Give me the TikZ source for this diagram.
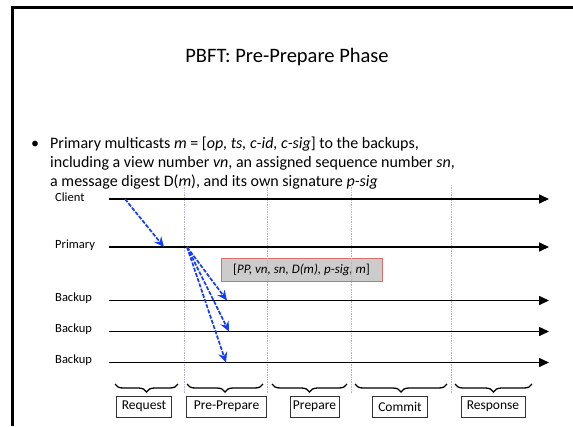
\documentclass[tikz,border=0pt]{standalone}
\usepackage{fontspec}
\setmainfont{Carlito}
\usetikzlibrary{arrows.meta,decorations.pathreplacing}
\definecolor{msgblue}{RGB}{20,60,250}
\definecolor{guide}{RGB}{185,175,215}
\definecolor{tagfill}{RGB}{204,204,204}
\definecolor{tagedge}{RGB}{215,110,110}
\begin{document}
\begin{tikzpicture}[x=1pt,y=-1pt,
  timeline/.style={line width=1.6pt,-{Triangle[length=10pt,width=9pt]}},
  procname/.style={anchor=west,font=\fontsize{12.5}{14}\selectfont,inner sep=0pt},
  msg/.style={draw=msgblue,line width=1.7pt,dash pattern=on 4pt off 1.5pt,-{Stealth[length=10pt,width=9pt]}},
  guideline/.style={draw=guide,densely dotted,line width=0.7pt},
  phasebrace/.style={decorate,decoration={brace,amplitude=8pt,mirror},line width=1.3pt},
  phasebox/.style={draw=black!80,line width=0.6pt,minimum height=21pt,inner sep=0pt,font=\fontsize{13.5}{15}\selectfont},
  bodytext/.style={anchor=base west,inner sep=0pt,font=\fontsize{16}{19}\selectfont},
]
\useasboundingbox (0,0) rectangle (573,426);
\fill[white] (0,0) rectangle (573,426);
% slide frame
\draw[line width=2.2pt] (12.5,426) -- (12.5,7.5) -- (573,7.5);

% title and bullet
\node (title) at (287,57) {\fontsize{20.5}{25}\selectfont PBFT: Pre-Prepare Phase};
\node[bodytext] (dot) at (31,148) {\textbullet};
\node[bodytext] (line1) at (50,148) {Primary multicasts \textit{m} = [\textit{op, ts, c-id, c-sig}] to the backups,};
\node[bodytext] (line2) at (50,167) {including a view number \textit{vn}, an assigned sequence number \textit{sn},};
\node[bodytext] (line3) at (50,186) {a message digest D(\textit{m}), and its own signature \textit{p-sig}};

% message contents
\node[fill=tagfill,draw=tagedge,line width=0.8pt,minimum width=161pt,minimum height=23pt,inner sep=0pt,
      font=\fontsize{13}{15}\selectfont] (tag) at (301.5,269.5) {[\textit{PP, vn, sn, D(m), p-sig, m}]};

% phase separators
\foreach \x/\n in {184.5/g1,267/g2,351/g3,451/g4}{
  \coordinate (\n top) at (\x,185);
  \coordinate (\n bot) at (\x,393);
  \draw[guideline] (\n top) -- (\n bot);
}

% process timelines
\foreach \y/\n/\t in {199/client/Client,247/primary/Primary,300.5/backupa/Backup,331.5/backupb/Backup,362.5/backupc/Backup}{
  \node[procname] (\n) at (55,\y-2) {\t};
  \coordinate (\n L) at (109,\y);
  \coordinate (\n R) at (549,\y);
  \draw[timeline] (\n L) -- (\n R);
}

% messages
\coordinate (reqS) at (125,199);
\coordinate (reqE) at (164,247);
\coordinate (ppS) at (187,247);
\coordinate (ppA) at (227,300.5);
\coordinate (ppB) at (229,331.5);
\coordinate (ppC) at (226,362.5);
\draw[msg] (reqS) -- (reqE);
\draw[msg] (ppS) -- (ppA);
\draw[msg] (ppS) -- (ppB);
\draw[msg] (ppS) -- (ppC);

% phases
\foreach \a/\b/\c/\w/\n/\t in {115/178/144/55/request/Request,187/263/226.5/80/preprep/Pre-Prepare,272/347/314.5/49/prepare/Prepare,355/447/400/55/commit/Commit,455/532/493/64/response/Response}{
  \coordinate (\n A) at (\a,384);
  \coordinate (\n B) at (\b,384);
  \draw[phasebrace] (\n A) -- (\n B);
  \node[phasebox,minimum width=\w pt] (\n) at (\c,406.5) {\t};
}
\end{tikzpicture}
\end{document}
